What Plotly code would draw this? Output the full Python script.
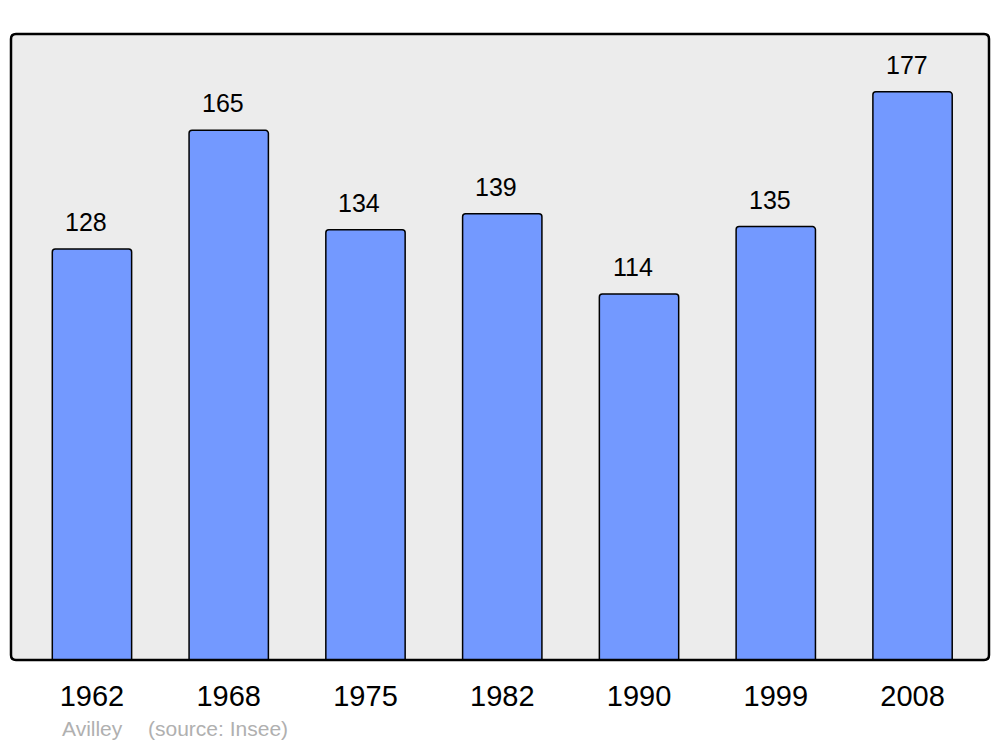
import plotly.graph_objects as go

years = ["1962", "1968", "1975", "1982", "1990", "1999", "2008"]
population = [128, 165, 134, 139, 114, 135, 177]
commune = "Avilley"
source = "(source: Insee)"

BAR_COLOR = "#7399ff"
BG = "#ececec"
FONT = "Liberation Sans, Arial, sans-serif"

fig = go.Figure()
fig.add_trace(go.Bar(
    x=years, y=population,
    width=0.58,
    marker=dict(color=BAR_COLOR, line=dict(color="#000000", width=1.5), cornerradius=3),
    hoverinfo="x+y",
))

for i, v in enumerate(population):
    fig.add_annotation(x=i, y=v, text=str(v), showarrow=False,
                       yanchor="bottom", yshift=11, xshift=-6,
                       font=dict(family=FONT, size=25, color="#000000"))

# frame with rounded corners (paper coordinates)
rx, ry = 5 / 978, 5 / 626
path = (f"M {rx},0 L {1-rx},0 Q 1,0 1,{ry} L 1,{1-ry} Q 1,1 {1-rx},1 "
        f"L {rx},1 Q 0,1 0,{1-ry} L 0,{ry} Q 0,0 {rx},0 Z")
fig.add_shape(type="path", path=path, xref="paper", yref="paper",
              line=dict(color="#000000", width=2.5), layer="above")

fig.add_annotation(xref="paper", yref="paper", x=(60 - 11) / 978, y=-(742 - 660) / 626,
                   text=commune, showarrow=False, xanchor="left", yanchor="bottom",
                   font=dict(family=FONT, size=21, color="#b0b0b0"))
fig.add_annotation(xref="paper", yref="paper", x=(146 - 11) / 978, y=-(742 - 660) / 626,
                   text=source, showarrow=False, xanchor="left", yanchor="bottom",
                   font=dict(family=FONT, size=21, color="#b0b0b0"))

fig.update_layout(
    width=1000, height=747,
    margin=dict(l=11, r=11, t=34, b=87),
    paper_bgcolor="#ffffff", plot_bgcolor=BG,
    showlegend=False,
    xaxis=dict(type="category", range=[-0.592, 6.559], showgrid=False, zeroline=False,
               showline=False, ticks="", tickfont=dict(family=FONT, size=29, color="#000000"),
               ticklabelstandoff=16, fixedrange=True),
    yaxis=dict(range=[0, 195], showgrid=False, zeroline=False, showline=False,
               showticklabels=False, ticks="", fixedrange=True),
)

fig.write_html("out.html", config={"displayModeBar": False},
               post_script="document.body.style.margin='0';document.body.style.overflow='hidden';")
